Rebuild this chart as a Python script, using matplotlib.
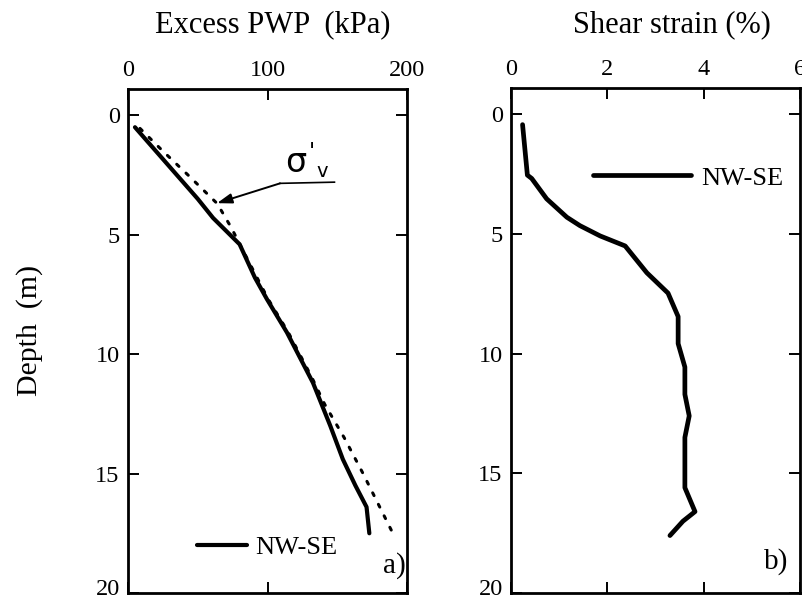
import matplotlib
matplotlib.use("Agg")
import matplotlib.pyplot as plt
from matplotlib.transforms import ScaledTranslation

plt.rcParams['font.family'] = ['Liberation Serif', 'DejaVu Serif']

# Panel a) excess pore water pressure (kPa) vs depth (m)
pwp_depth = [0.5, 1.5, 2.5, 3.5, 4.3, 5.4, 6.8, 7.7, 9.1, 11.2, 13.0, 14.4, 15.5, 16.4, 17.5]
pwp_value = [5, 20, 35, 50, 61, 80, 91, 99.6, 114, 132.6, 145, 154, 163, 171, 173]

# Effective vertical stress sigma'_v (kPa) vs depth (m)
sig_depth = [0.55, 1.5, 2.5, 3.7, 4.7, 5.5, 7.7, 9.1, 11.0, 12.1, 13.5, 15.0, 17.4]
sig_value = [8.6, 25, 43, 64, 74, 81, 100.5, 115, 132, 141, 155, 168.5, 189]

# Panel b) shear strain (%) vs depth (m)
strain_depth = [0.43, 2.54, 2.68, 3.53, 4.3, 4.65, 5.08, 5.5, 6.62, 7.47, 8.45, 9.58,
                10.56, 11.7, 12.6, 13.5, 15.6, 16.6, 17.0, 17.6]
strain_value = [0.24, 0.34, 0.43, 0.74, 1.16, 1.43, 1.85, 2.37, 2.82, 3.26, 3.47, 3.47,
                3.61, 3.61, 3.70, 3.61, 3.61, 3.82, 3.57, 3.30]

series_label = "NW-SE"
pwp_ticks = [0, 100, 200]
strain_ticks = [0, 2, 4, 6]
depth_ticks = [0, 5, 10, 15, 20]

W, H = 802, 602
fig = plt.figure(figsize=(W / 100, H / 100), dpi=100)

def px_axes(x0, x1, y0, y1):
    return fig.add_axes([x0 / W, 1 - y1 / H, (x1 - x0) / W, (y1 - y0) / H])

ax1 = px_axes(128, 407, 89, 593)
ax2 = px_axes(511, 800, 88, 593)

TICK_FS = 17.5
for ax in (ax1, ax2):
    ax.set_ylim(20, -1.1)
    ax.set_yticks(depth_ticks)
    ax.tick_params(axis='both', direction='in', length=8, width=1.4,
                   top=True, right=True, bottom=True, left=True,
                   labeltop=True, labelbottom=False, labelsize=TICK_FS, pad=6)
    for sp in ax.spines.values():
        sp.set_linewidth(2.0)

ax1.set_xlim(0, 200)
ax1.set_xticks(pwp_ticks)
ax2.set_xlim(0, 6)
ax2.set_xticks(strain_ticks)

ax1.plot(pwp_value, pwp_depth, color='black', lw=3.0, solid_capstyle='round',
         label=series_label)
ax1.plot(sig_value, sig_depth, color='black', lw=2.2, linestyle=(0, (1, 3.2)),
         dash_capstyle='round')

ax2.plot(strain_value, strain_depth, color='black', lw=3.4, solid_capstyle='round',
         label=series_label)

# sigma'_v annotation
ax1.text(120.4, 1.97, "σ", fontsize=24, ha='center', va='center',
         family=['DejaVu Sans'])
ax1.text(132.0, 1.55, "'", fontsize=16, ha='center', va='center', family=['DejaVu Sans'])
ax1.text(139.5, 2.35, "v", fontsize=14, ha='center', va='center', family=['DejaVu Sans'])
ax1.plot([109, 148], [2.85, 2.8], color='black', lw=1.2)
ax1.annotate("", xy=(63.8, 3.68), xytext=(109, 2.85),
             arrowprops=dict(arrowstyle='-|>,head_length=0.9,head_width=0.3',
                             color='black', lw=1.4, shrinkA=0, shrinkB=0))

ax1.legend(loc='center left', bbox_to_anchor=(0.247, 0.091), frameon=False,
           fontsize=19, handlelength=1.9, handletextpad=0.3,
           borderpad=0, borderaxespad=0)
ax2.legend(loc='center left', bbox_to_anchor=(0.284, 0.822), frameon=False,
           fontsize=19, handlelength=3.7, handletextpad=0.4,
           borderpad=0, borderaxespad=0)

ax1.text(0.955, 0.055, "a)", transform=ax1.transAxes, fontsize=21,
         ha='center', va='center')
ax2.text(0.917, 0.062, "b)", transform=ax2.transAxes, fontsize=21,
         ha='center', va='center')

fig.text(273 / W, 1 - 25 / H, "Excess PWP  (kPa)", fontsize=22, ha='center', va='center')
fig.text(672 / W, 1 - 25 / H, "Shear strain (%)", fontsize=22, ha='center', va='center')
fig.text(30 / W, 1 - 330 / H, "Depth  (m)", fontsize=21.5, ha='center', va='center',
         rotation=90)

# nudge the bottom depth label up slightly so it stays inside the figure
fig.canvas.draw()
for ax in (ax1, ax2):
    lbl = ax.yaxis.get_ticklabels()[-1]
    lbl.set_transform(lbl.get_transform() + ScaledTranslation(0, 4 / 72, fig.dpi_scale_trans))

fig.savefig("out.png", dpi=100, facecolor='white')
